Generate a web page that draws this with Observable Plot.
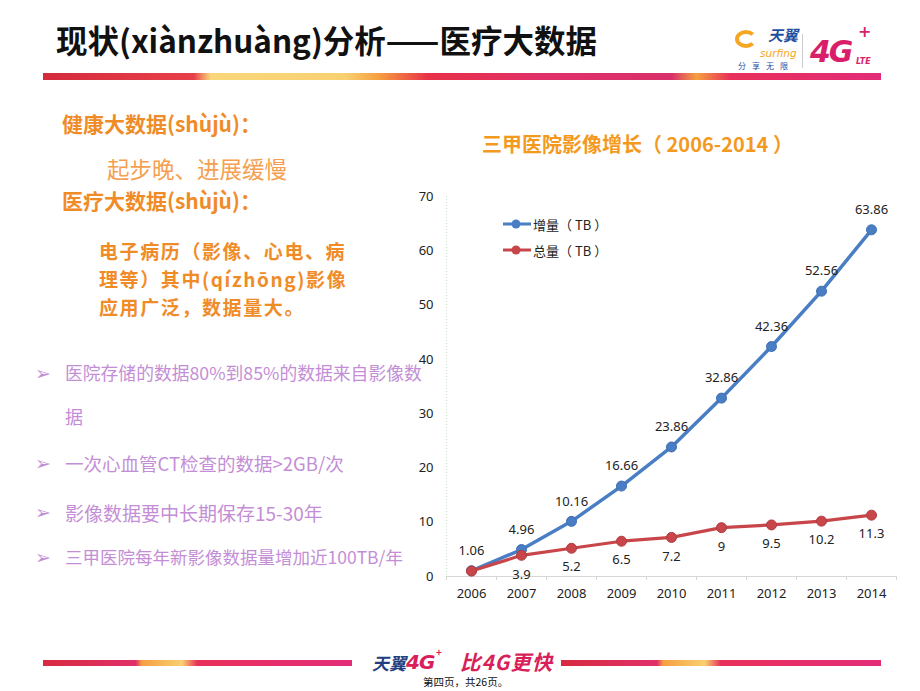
<!DOCTYPE html>
<html><head><meta charset="utf-8">
<script src="https://cdn.jsdelivr.net/npm/d3@7"></script>
<script src="https://cdn.jsdelivr.net/npm/@observablehq/plot@0.6"></script>
<style>
html,body{margin:0;padding:0;background:#fff;}
body{width:920px;height:691px;position:relative;overflow:hidden;font-family:"Noto Sans CJK SC","Noto Sans",sans-serif;}
.abs{position:absolute;white-space:nowrap;line-height:1;}
.or{color:#F08C28;font-weight:bold;}
.pu{color:#C48ED6;}
.bul{position:absolute;color:#C48ED6;font-family:"DejaVu Sans",sans-serif;font-size:19px;line-height:1;}
.para{font-size:19px;letter-spacing:1.6px;}
</style></head>
<body>
<script>
// ---- data ----
const years = [2006, 2007, 2008, 2009, 2010, 2011, 2012, 2013, 2014];
const increment = [1.06, 4.96, 10.16, 16.66, 23.86, 32.86, 42.36, 52.56, 63.86]; // 增量（TB）
const total = [1.0, 3.9, 5.2, 6.5, 7.2, 9, 9.5, 10.2, 11.3];                      // 总量（TB）
const yTicks = [0, 10, 20, 30, 40, 50, 60, 70];
const seriesNames = ["增量（ TB ）", "总量（ TB ）"];
const chartTitle = "三甲医院影像增长（ 2006-2014 ）";
</script>

<!-- header -->
<div class="abs" style="left:56px;top:24px;font-size:31.5px;font-weight:bold;color:#111;">现状(xiànzhuàng)分析——医疗大数据</div>
<div style="position:absolute;left:43px;top:73px;width:838px;height:7px;background:linear-gradient(90deg,#D42A3C 0%,#E8404A 18%,#F9D77A 20%,#F8D070 36%,#F6A040 40%,#E83048 46%,#E0306A 60%,#D8306A 75%,#F5A040 78%,#E8305A 82%,#E22C78 100%);"></div>
<!-- logo -->
<div style="position:absolute;left:735px;top:30px;width:22px;height:18px;border:4px solid #F5A623;border-radius:50%;border-right-color:transparent;box-sizing:border-box;"></div>
<div class="abs" style="left:768px;top:27px;font-size:15px;font-weight:bold;font-style:italic;color:#1F4FA0;">天翼</div>
<div class="abs" style="left:760px;top:48px;font-size:10.5px;font-style:italic;color:#F5A623;font-family:'DejaVu Sans',sans-serif;">surfing</div>
<div class="abs" style="left:738px;top:62px;font-size:8px;color:#1F4FA0;letter-spacing:6px;">分享无限</div>
<div style="position:absolute;left:802px;top:34px;width:1px;height:34px;background:#ccc;"></div>
<div class="abs" style="left:810px;top:37px;font-size:30px;font-weight:bold;font-style:italic;color:#D81F6A;font-family:'DejaVu Sans',sans-serif;letter-spacing:-2px;">4G</div>
<div class="abs" style="left:858px;top:24px;font-size:16px;font-weight:bold;color:#D81F6A;font-family:'DejaVu Sans',sans-serif;">+</div>
<div class="abs" style="left:856px;top:58px;font-size:8px;font-weight:bold;font-style:italic;color:#D81F6A;font-family:'DejaVu Sans',sans-serif;">LTE</div>

<!-- left text -->
<div class="abs or" style="left:62px;top:113px;font-size:21px;">健康大数据(shùjù)：</div>
<div class="abs" style="left:107px;top:157px;font-size:22.5px;color:#F5A050;">起步晚、进展缓慢</div>
<div class="abs or" style="left:62px;top:190px;font-size:21px;">医疗大数据(shùjù)：</div>
<div class="abs or para" style="left:99px;top:241px;">电子病历（影像、心电、病</div>
<div class="abs or para" style="left:99px;top:269px;">理等）其中(qízhōng)影像</div>
<div class="abs or para" style="left:99px;top:297px;">应用广泛，数据量大。</div>

<div class="bul" style="left:35px;top:364px;">➢</div>
<div class="abs pu" style="left:65px;top:364px;font-size:17.8px;">医院存储的数据80%到85%的数据来自影像数</div>
<div class="abs pu" style="left:65px;top:407px;font-size:18px;">据</div>
<div class="bul" style="left:35px;top:454px;">➢</div>
<div class="abs pu" style="left:65px;top:454px;font-size:18.5px;">一次心血管CT检查的数据&gt;2GB/次</div>
<div class="bul" style="left:35px;top:503px;">➢</div>
<div class="abs pu" style="left:65px;top:503px;font-size:19px;">影像数据要中长期保存15-30年</div>
<div class="bul" style="left:35px;top:548px;">➢</div>
<div class="abs pu" style="left:65px;top:548px;font-size:17.5px;">三甲医院每年新影像数据量增加近100TB/年</div>

<!-- chart title -->
<div id="ctitle" class="abs" style="left:482px;top:134px;font-size:20px;font-weight:bold;color:#F39A1E;"></div>

<!-- chart -->
<div id="chart" style="position:absolute;left:400px;top:185px;"></div>

<!-- legend -->
<div id="legend"></div>

<!-- footer -->
<div style="position:absolute;left:43px;top:660px;width:309px;height:6px;background:linear-gradient(90deg,#D82A40 0%,#E0306A 30%,#F6A040 32%,#F8D070 45%,#E8305A 50%,#E22C78 100%);"></div>
<div style="position:absolute;left:561px;top:660px;width:320px;height:6px;background:linear-gradient(90deg,#D82A40 0%,#E0306A 30%,#F6A040 32%,#F8D070 45%,#E8305A 50%,#E22C78 100%);"></div>
<div class="abs" style="left:372px;top:654px;font-size:17px;font-weight:bold;font-style:italic;color:#1F3F80;">天翼</div>
<div class="abs" style="left:406px;top:652px;font-size:20px;font-weight:bold;font-style:italic;color:#D81F5A;font-family:'DejaVu Sans',sans-serif;letter-spacing:-1px;">4G</div>
<div class="abs" style="left:436px;top:647px;font-size:10px;font-weight:bold;color:#D81F5A;">+</div>
<div class="abs" style="left:460px;top:651px;font-size:20.5px;font-weight:bold;font-style:italic;color:#D81F5A;letter-spacing:1px;">比4G更快</div>
<div class="abs" style="left:423px;top:677px;font-size:10.5px;color:#111;">第四页，共26页。</div>

<script>
document.getElementById("ctitle").textContent = chartTitle;

const rowsI = years.map((y, i) => ({year: y, value: increment[i], series: seriesNames[0]}));
const rowsT = years.map((y, i) => ({year: y, value: total[i], series: seriesNames[1]}));
const bounds = [years[0] - 0.5, ...years.map(y => y + 0.5)];
const blue = "#4A7EC4", red = "#C8464A";

const plot = Plot.plot({
  width: 510,
  height: 420,
  marginLeft: 46,
  marginRight: 14,
  marginTop: 11,
  marginBottom: 29,
  style: {fontFamily: "'Noto Sans', 'Open Sans', sans-serif", fontSize: "13px", color: "#333", background: "transparent"},
  x: {domain: [bounds[0], bounds[bounds.length - 1]], axis: null},
  y: {domain: [0, 70], axis: null},
  marks: [
    Plot.ruleX([bounds[0]], {stroke: "#c9dfc9", strokeDasharray: "1,2", strokeWidth: 1}),
    Plot.ruleY([0], {stroke: "#d6d6d6", strokeWidth: 1}),
    Plot.axisX({ticks: bounds, tickSize: 4, tickFormat: () => "", stroke: "#d6d6d6", label: null}),
    Plot.axisX({ticks: years, tickSize: 0, tickPadding: 12, tickFormat: d => String(d), fill: "#222", fontSize: 13, label: null}),
    Plot.axisY({ticks: yTicks, tickSize: 0, tickPadding: 13, label: null, fill: "#222", fontSize: 13}),
    Plot.line(rowsI, {x: "year", y: "value", stroke: blue, strokeWidth: 3.5}),
    Plot.dot(rowsI, {x: "year", y: "value", r: 5, fill: blue, stroke: "#3E6FB0", strokeWidth: 1}),
    Plot.line(rowsT, {x: "year", y: "value", stroke: red, strokeWidth: 3.2}),
    Plot.dot(rowsT, {x: "year", y: "value", r: 5, fill: red, stroke: "#B03C40", strokeWidth: 1}),
    Plot.text(rowsI, {x: "year", y: "value", text: d => String(d.value), dy: -20, fill: "#222", fontSize: 13}),
    Plot.text(rowsT.slice(1), {x: "year", y: "value", text: d => String(d.value), dy: 19, fill: "#222", fontSize: 13})
  ]
});
document.getElementById("chart").appendChild(plot);

// legend (inside plot area)
const lg = document.getElementById("legend");
[[seriesNames[0], blue, 224], [seriesNames[1], red, 250]].forEach(([name, c, y]) => {
  const d = document.createElement("div");
  d.style.cssText = `position:absolute;left:503px;top:${y - 9}px;height:18px;display:flex;align-items:center;`;
  d.innerHTML = `<svg width="28" height="18"><line x1="0" y1="9" x2="28" y2="9" stroke="${c}" stroke-width="3"/><circle cx="13" cy="9" r="4.5" fill="${c}"/></svg><span style="font-size:13px;color:#222;margin-left:2px;font-family:'Noto Sans CJK SC',sans-serif;white-space:pre;">${name}</span>`;
  lg.appendChild(d);
});
</script>
</body></html>
